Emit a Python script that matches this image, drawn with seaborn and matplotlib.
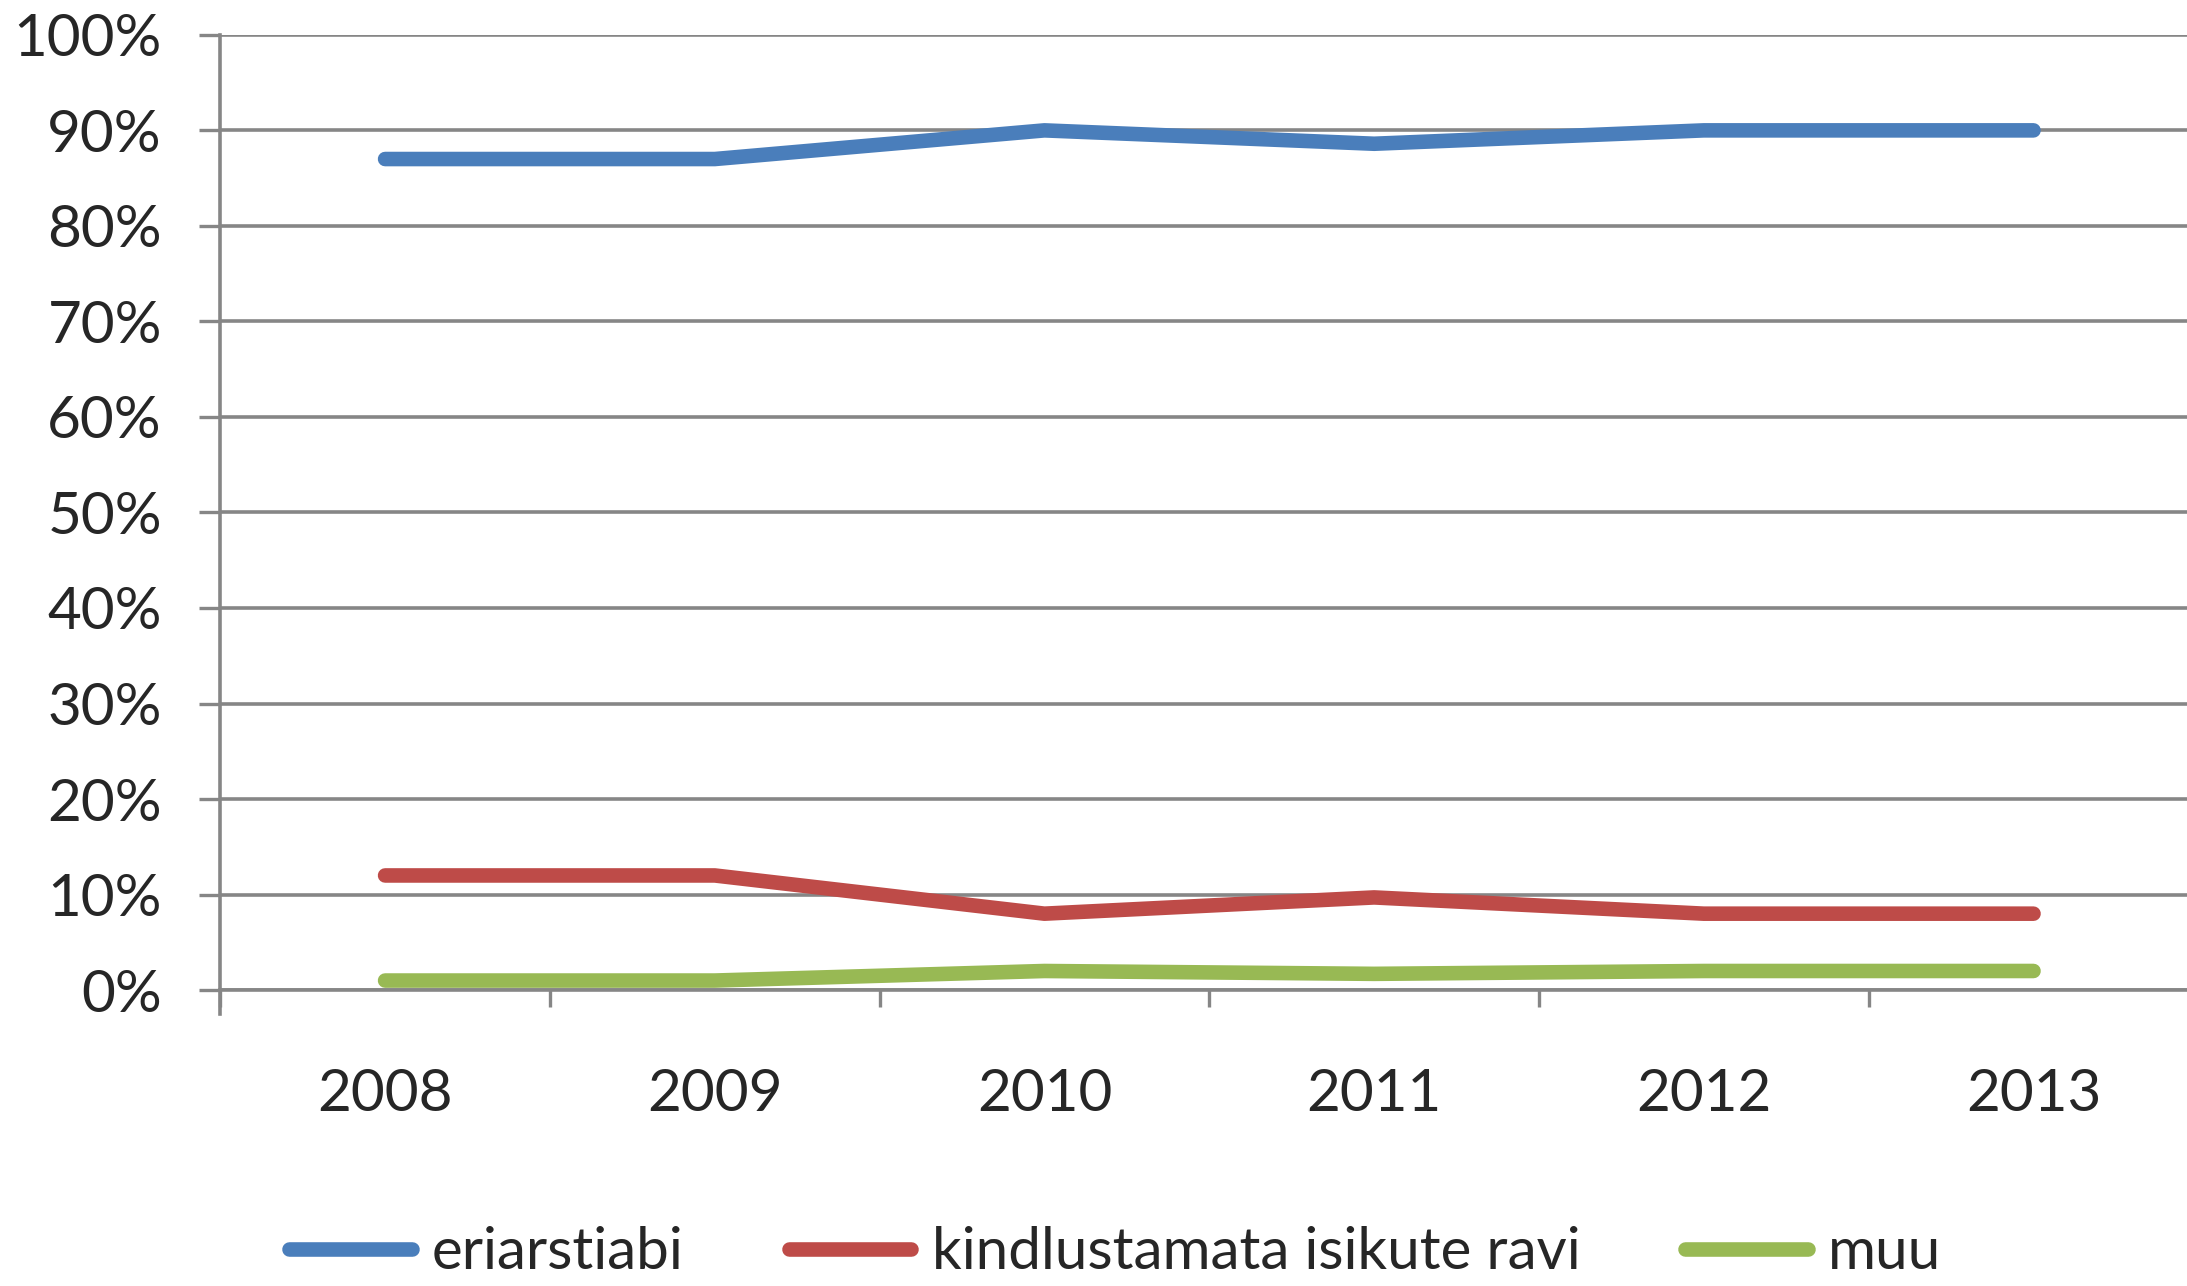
import pandas as pd
import numpy as np
import seaborn as sns
import matplotlib.pyplot as plt
from matplotlib.ticker import PercentFormatter, FixedLocator

years = ['2008', '2009', '2010', '2011', '2012', '2013']
eriarstiabi = [87, 87, 90, 88.6, 90, 90]
kindlustamata = [12, 12, 8, 9.7, 8, 8]
muu = [1, 1, 2, 1.7, 2, 2]
series = ['eriarstiabi', 'kindlustamata isikute ravi', 'muu']
colors = ['#4A7EBB', '#BE4B48', '#98B954']

df = pd.DataFrame({'aasta': years * 3,
                   'osakaal': eriarstiabi + kindlustamata + muu,
                   'liik': [s for s in series for _ in years]})

sns.set_style('white')
plt.rcParams['font.family'] = ['Lato', 'DejaVu Sans']
fs = 42
grey = '#868686'

fig = plt.figure(figsize=(21.87, 12.86), dpi=100)
ax = fig.add_axes([0.1007, 0.2301, 0.9045, 0.7428])

sns.lineplot(data=df, x='aasta', y='osakaal', hue='liik', palette=colors,
             linewidth=10.5, solid_capstyle='round', ax=ax, legend=True, sort=False)

ax.set_ylim(0, 100)
ax.set_xlim(-0.5, 5.5)
ax.yaxis.set_major_locator(FixedLocator(np.arange(0, 101, 10)))
ax.yaxis.set_major_formatter(PercentFormatter(decimals=0))
ax.grid(axis='y', color=grey, linewidth=2.6)
ax.set_axisbelow(True)
ax.set_xlabel('')
ax.set_ylabel('')

ax.xaxis.set_minor_locator(FixedLocator(np.arange(-0.5, 6, 1)))
ax.tick_params(axis='x', which='major', length=0, pad=56, labelsize=fs)
ax.tick_params(axis='x', which='minor', length=12, width=2.4, color=grey, direction='out', bottom=True)
ax.tick_params(axis='y', length=15, width=2.4, color=grey, direction='out', left=True, pad=27, labelsize=fs)

for side in ['top', 'right']:
    ax.spines[side].set_visible(False)
for side in ['left', 'bottom']:
    ax.spines[side].set_color(grey)
    ax.spines[side].set_linewidth(2.6)
ax.spines['left'].set_bounds(-2.5, 100)

handles, labels = ax.get_legend_handles_labels()
ax.get_legend().remove()
for h in handles:
    h.set_linewidth(10.5)
    h.set_solid_capstyle('round')
fig.legend(handles, labels, loc='center', bbox_to_anchor=(0.51, 0.026), ncol=3,
           frameon=False, fontsize=fs, handlelength=2.1, handletextpad=0.35,
           columnspacing=1.8)

fig.savefig('out.png', dpi=100)
